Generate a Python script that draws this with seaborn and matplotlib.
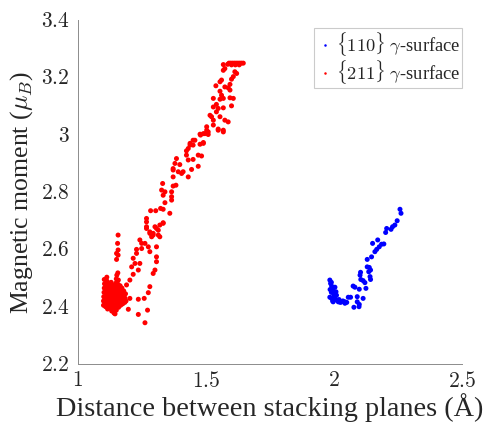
import numpy as np
import pandas as pd
import matplotlib
matplotlib.use("Agg")
import matplotlib.pyplot as plt
import seaborn as sns
from matplotlib.ticker import FuncFormatter

# ---------------- data ----------------
blue_x = [2.258, 2.262, 2.247, 2.238, 2.229, 2.223, 2.206, 2.202, 2.171, 2.151,
          2.195, 2.186, 2.177, 2.167, 2.160, 2.147, 2.130, 2.130, 2.138, 2.143,
          2.136, 2.104, 2.102, 2.141, 2.143, 2.105, 2.114, 2.121, 2.075, 2.082,
          2.099, 2.125, 1.984, 1.987, 1.991, 1.997, 2.004, 1.995, 2.008, 2.000,
          1.984, 1.991, 2.004, 2.011, 1.997, 2.017, 2.030, 2.043, 2.056, 2.065,
          2.091, 2.114, 2.091, 2.099, 2.078, 2.098, 2.043,
          1.985, 1.990, 2.010, 2.020, 2.025, 1.995, 2.035, 2.050, 1.990, 2.000]
blue_y = [2.740, 2.726, 2.700, 2.685, 2.679, 2.670, 2.673, 2.659, 2.633, 2.621,
          2.619, 2.618, 2.609, 2.600, 2.592, 2.574, 2.565, 2.539, 2.537, 2.528,
          2.522, 2.520, 2.510, 2.505, 2.495, 2.495, 2.491, 2.484, 2.472, 2.468,
          2.461, 2.464, 2.493, 2.481, 2.472, 2.464, 2.468, 2.452, 2.452, 2.441,
          2.433, 2.429, 2.429, 2.423, 2.417, 2.417, 2.417, 2.417, 2.433, 2.433,
          2.435, 2.429, 2.417, 2.408, 2.398, 2.400, 2.412,
          2.460, 2.450, 2.440, 2.425, 2.415, 2.420, 2.420, 2.415, 2.485, 2.450]

red_x = [
    # dense cluster
    1.100, 1.100, 1.101, 1.102, 1.103, 1.104, 1.103, 1.108, 1.108, 1.109,
    1.110, 1.111, 1.112, 1.113, 1.113, 1.116, 1.117, 1.118, 1.119, 1.120,
    1.121, 1.122, 1.124, 1.125, 1.126, 1.127, 1.128, 1.129, 1.130, 1.132,
    1.133, 1.134, 1.135, 1.136, 1.137, 1.138, 1.141, 1.142, 1.143, 1.144,
    1.145, 1.146, 1.147, 1.148, 1.150, 1.152, 1.156, 1.150, 1.151, 1.152,
    1.153, 1.154, 1.155, 1.157, 1.158, 1.159, 1.160, 1.161, 1.162, 1.163,
    1.165, 1.167, 1.168, 1.169, 1.170, 1.172, 1.175, 1.176, 1.177, 1.179,
    1.183, 1.184, 1.186, 1.188, 1.145, 1.105, 1.115, 1.125, 1.135, 1.155,
    1.165,
    # vertical streak
    1.157, 1.155, 1.157, 1.151, 1.157, 1.151,
    # lower branch / start of band
    1.197, 1.236, 1.262, 1.272, 1.236, 1.203, 1.259, 1.275, 1.281, 1.190,
    1.203, 1.216, 1.294, 1.301, 1.236, 1.210, 1.223, 1.307, 1.242, 1.216,
    1.229, 1.229, 1.249, 1.281, 1.307, 1.262, 1.275, 1.307, 1.242, 1.249,
    1.288, 1.294, 1.314, 1.281, 1.268, 1.307, 1.320, 1.333, 1.268,
    # middle band
    1.268, 1.281, 1.294, 1.314, 1.320, 1.301, 1.333, 1.268, 1.284, 1.304,
    1.323, 1.333, 1.359, 1.340, 1.366, 1.366, 1.333, 1.340, 1.366, 1.372,
    1.331, 1.383, 1.327, 1.372, 1.392, 1.405, 1.411, 1.431, 1.372, 1.379,
    1.398, 1.372, 1.444, 1.470, 1.385, 1.431, 1.450, 1.470, 1.483, 1.424,
    1.424, 1.431, 1.438, 1.450, 1.457, 1.477, 1.490, 1.477, 1.496, 1.509,
    1.548, 1.568,
    # upper band
    1.568, 1.574, 1.613, 1.620, 1.568, 1.607, 1.600, 1.561, 1.555, 1.594,
    1.539, 1.574, 1.587, 1.594, 1.555, 1.561, 1.529, 1.555, 1.568, 1.594,
    1.607, 1.541, 1.529, 1.548, 1.568, 1.600, 1.541, 1.516, 1.522, 1.555,
    1.574, 1.587, 1.529, 1.503, 1.503, 1.529, 1.548, 1.568, 1.490, 1.509,
    1.479, 1.450, 1.490, 1.438,
    # saturated top
    1.590, 1.597, 1.604, 1.611, 1.618, 1.625, 1.632, 1.639, 1.646, 1.600,
    1.615, 1.630, 1.585]
red_y = [
    2.405, 2.420, 2.435, 2.450, 2.465, 2.480, 2.495, 2.400, 2.415, 2.430,
    2.445, 2.460, 2.475, 2.490, 2.503, 2.392, 2.407, 2.422, 2.437, 2.452,
    2.467, 2.482, 2.395, 2.410, 2.425, 2.440, 2.455, 2.470, 2.485, 2.385,
    2.400, 2.415, 2.430, 2.445, 2.460, 2.475, 2.378, 2.392, 2.407, 2.422,
    2.437, 2.452, 2.467, 2.482, 2.497, 2.510, 2.518, 2.388, 2.403, 2.418,
    2.433, 2.448, 2.463, 2.478, 2.493, 2.398, 2.413, 2.428, 2.443, 2.458,
    2.473, 2.405, 2.420, 2.435, 2.450, 2.465, 2.410, 2.425, 2.440, 2.455,
    2.415, 2.430, 2.445, 2.420, 2.375, 2.425, 2.445, 2.465, 2.405, 2.425,
    2.440,
    2.650, 2.621, 2.598, 2.586, 2.580, 2.565,
    2.391, 2.373, 2.344, 2.388, 2.426, 2.429, 2.429, 2.449, 2.470, 2.476,
    2.493, 2.513, 2.516, 2.528, 2.528, 2.539, 2.551, 2.557, 2.551, 2.569,
    2.586, 2.600, 2.603, 2.592, 2.574, 2.621, 2.609, 2.609, 2.633, 2.621,
    2.644, 2.656, 2.650, 2.656, 2.679, 2.673, 2.685, 2.693, 2.696,
    2.673, 2.661, 2.650, 2.667, 2.644, 2.679, 2.691, 2.708, 2.735, 2.735,
    2.743, 2.740, 2.726, 2.763, 2.772, 2.784, 2.789, 2.801, 2.801, 2.821,
    2.830, 2.824, 2.807, 2.853, 2.871, 2.865, 2.871, 2.853, 2.877, 2.900,
    2.896, 2.882, 2.879, 2.890, 2.917, 2.912, 2.914, 2.929, 2.926, 2.929,
    2.944, 2.952, 2.964, 2.964, 2.981, 2.967, 2.970, 3.002, 3.004, 3.010,
    3.016, 3.010,
    3.245, 3.231, 3.220, 3.214, 3.225, 3.203, 3.194, 3.191, 3.185, 3.176,
    3.171, 3.167, 3.164, 3.156, 3.152, 3.138, 3.127, 3.124, 3.127, 3.129,
    3.127, 3.106, 3.097, 3.092, 3.094, 3.101, 3.080, 3.068, 3.063, 3.063,
    3.051, 3.045, 3.051, 3.028, 3.016, 3.034, 3.020, 3.016, 3.004, 3.001,
    2.999, 2.981, 2.973, 2.970,
    3.250, 3.250, 3.250, 3.250, 3.250, 3.250, 3.250, 3.250, 3.250, 3.244,
    3.244, 3.244, 3.246]

series_names = [r"$\{110\}$ $\gamma$-surface", r"$\{211\}$ $\gamma$-surface"]
x_ticks = [1, 1.5, 2, 2.5]
y_ticks = [2.2, 2.4, 2.6, 2.8, 3.0, 3.2, 3.4]

df = pd.DataFrame({
    "x": blue_x + red_x,
    "y": blue_y + red_y,
    "series": [series_names[0]] * len(blue_x) + [series_names[1]] * len(red_x),
})

# ---------------- style ----------------
sns.set_style("white")
plt.rcParams["font.family"] = ["Liberation Serif", "DejaVu Serif"]
plt.rcParams["mathtext.fontset"] = "cm"

fig = plt.figure(figsize=(4.93, 4.29), dpi=100)
ax = fig.add_axes([0.158, 0.1515, 0.779, 0.8015])

sns.scatterplot(data=df, x="x", y="y", hue="series",
                palette={series_names[0]: "#0000ff", series_names[1]: "#ff0000"},
                s=13, linewidth=0, ax=ax, legend=True)

ax.set_xlim(1, 2.5)
ax.set_ylim(2.2, 3.4)
ax.set_xticks(x_ticks)
ax.set_yticks(y_ticks)
fmt = FuncFormatter(lambda v, p: "$%g$" % round(v, 2))
ax.xaxis.set_major_formatter(fmt)
ax.yaxis.set_major_formatter(fmt)

tick_col = "#262626"
ax.tick_params(axis="both", direction="in", length=3, width=0.6,
               colors="#808080", labelcolor=tick_col, labelsize=15.5, pad=6)
for side in ["top", "right"]:
    ax.spines[side].set_visible(False)
for side in ["left", "bottom"]:
    ax.spines[side].set_color("#8c8c8c")
    ax.spines[side].set_linewidth(0.7)

ax.set_xlabel("Distance between stacking planes (Å)", fontsize=20.3,
              color=tick_col, labelpad=0.5)
ax.set_ylabel(r"Magnetic moment ($\mu_B$)", fontsize=18.5,
              color=tick_col, labelpad=4)

handles, labels = ax.get_legend_handles_labels()
leg = ax.legend(handles, labels, loc="upper right", bbox_to_anchor=(1.0, 0.977),
                borderaxespad=0, fontsize=13.3, frameon=True, fancybox=False,
                handletextpad=0.15, handlelength=0.9, borderpad=0.1,
                labelspacing=0.0, markerscale=0.5)
leg.get_frame().set_edgecolor("#bfbfbf")
leg.get_frame().set_linewidth(0.8)
for t in leg.get_texts():
    t.set_color(tick_col)

fig.savefig("out.png", dpi=100)
